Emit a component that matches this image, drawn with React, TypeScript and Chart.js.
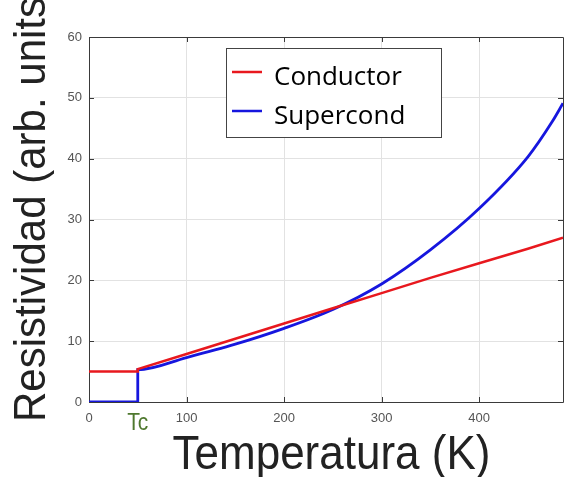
import React, { useEffect, useRef } from "react";
import { Chart, registerables } from "chart.js";

Chart.register(...registerables);

// ---- data ----
const SERIES_LABELS = ["Conductor", "Supercond"];
const TEMP_CONDUCTOR = [0, 50, 50, 100, 150, 200, 250, 300, 350, 400, 450, 486];
const RHO_CONDUCTOR = [5.0, 5.0, 5.4, 7.9, 10.4, 12.9, 15.4, 17.9, 20.4, 22.8, 25.2, 27.0];
const TEMP_SUPER = [0, 50, 50, 100, 150, 200, 250, 300, 350, 400, 450, 475, 486];
const RHO_SUPER = [0, 0, 5.3, 7.3, 9.5, 12.1, 15.2, 19.4, 25.0, 31.8, 40.3, 46.1, 49.1];
const TC = 50;
const TC_LABEL = "Tc";
const X_TICKS = [0, 100, 200, 300, 400];
const Y_TICKS = [0, 10, 20, 30, 40, 50, 60];
const X_MIN = 0;
const X_MAX = 486;
const Y_MIN = 0;
const Y_MAX = 60;
const X_TITLE = "Temperatura (K)";
const Y_TITLE = "Resistividad (arb. units)";

const COLORS = ["rgb(232,24,30)", "rgb(22,22,222)"];

const W = 565;
const H = 477;

function scaledText(ctx: any, text: string, x: number, y: number, sx: number, sy: number, rot = 0) {
  ctx.save();
  ctx.translate(x, y);
  if (rot) ctx.rotate(rot);
  ctx.scale(sx, sy);
  ctx.fillText(text, 0, 0);
  ctx.restore();
}

const decorPlugin = {
  id: "decor",
  beforeDatasetsDraw(chart: any) {
    const { ctx, chartArea: a, scales } = chart;
    const xs = scales.x;
    const ys = scales.y;
    ctx.save();
    ctx.strokeStyle = "#3a3a3a";
    ctx.lineWidth = 1;
    ctx.beginPath();
    ctx.moveTo(a.left + 0.5, a.bottom + 0.5);
    ctx.lineTo(a.left + 0.5, a.top + 0.5);
    ctx.lineTo(a.right + 0.5, a.top + 0.5);
    ctx.lineTo(a.right + 0.5, a.bottom + 0.5);
    ctx.lineTo(a.left + 0.5, a.bottom + 0.5);
    ctx.stroke();
    const tl = 5;
    ctx.beginPath();
    X_TICKS.forEach((v) => {
      const px = Math.round(xs.getPixelForValue(v)) + 0.5;
      ctx.moveTo(px, a.bottom);
      ctx.lineTo(px, a.bottom - tl);
      ctx.moveTo(px, a.top);
      ctx.lineTo(px, a.top + tl);
    });
    Y_TICKS.forEach((v) => {
      const py = Math.round(ys.getPixelForValue(v)) + 0.5;
      ctx.moveTo(a.left, py);
      ctx.lineTo(a.left + tl, py);
      ctx.moveTo(a.right, py);
      ctx.lineTo(a.right - tl, py);
    });
    ctx.stroke();
    ctx.restore();
  },
  afterDraw(chart: any) {
    const { ctx, chartArea: a, scales } = chart;
    const xs = scales.x;
    ctx.save();
    ctx.textBaseline = "alphabetic";
    // x title
    ctx.fillStyle = "#222";
    ctx.font = '44px "Liberation Sans", Arial, sans-serif';
    ctx.textAlign = "center";
    scaledText(ctx, X_TITLE, (a.left + a.right) / 2 + 5.5, a.bottom + 67, 1, 1.08);
    // y title
    ctx.font = '44px "Liberation Sans", Arial, sans-serif';
    ctx.textAlign = "left";
    scaledText(ctx, Y_TITLE, a.left - 44, a.bottom + 20, 0.955, 1, -Math.PI / 2);
    // Tc label
    ctx.fillStyle = "rgb(78,120,46)";
    ctx.font = '21px "Liberation Sans", Arial, sans-serif';
    ctx.textAlign = "center";
    scaledText(ctx, TC_LABEL, xs.getPixelForValue(TC), a.bottom + 28, 1, 1.1);
    // legend
    const lx = a.left + 137;
    const ly = a.top + 11;
    const lw = 215;
    const lh = 89;
    ctx.fillStyle = "#fff";
    ctx.fillRect(lx, ly, lw, lh);
    ctx.strokeStyle = "#444";
    ctx.lineWidth = 1;
    ctx.strokeRect(lx + 0.5, ly + 0.5, lw, lh);
    ctx.font = '26px "Open Sans", sans-serif';
    ctx.textAlign = "left";
    chart.data.datasets.forEach((ds: any, i: number) => {
      const cy = ly + 24 + i * 39;
      ctx.strokeStyle = ds.borderColor;
      ctx.lineWidth = 2.5;
      ctx.beginPath();
      ctx.moveTo(lx + 6, cy);
      ctx.lineTo(lx + 36, cy);
      ctx.stroke();
      ctx.fillStyle = "#000";
      ctx.fillText(ds.label, lx + 48, cy + 13);
    });
    ctx.restore();
  },
};

export default function App() {
  const ref = useRef<HTMLCanvasElement | null>(null);

  useEffect(() => {
    if (!ref.current) return;
    const tickFont = { family: '"Liberation Sans", Arial, sans-serif', size: 13 };
    const chart = new Chart(ref.current, {
      type: "line",
      data: {
        datasets: [
          {
            label: SERIES_LABELS[0],
            data: TEMP_CONDUCTOR.map((t, i) => ({ x: t, y: RHO_CONDUCTOR[i] })),
            borderColor: COLORS[0],
            borderWidth: 2.5,
            pointRadius: 0,
            tension: 0,
            fill: false,
          },
          {
            label: SERIES_LABELS[1],
            data: TEMP_SUPER.map((t, i) => ({ x: t, y: RHO_SUPER[i] })),
            borderColor: COLORS[1],
            borderWidth: 2.8,
            pointRadius: 0,
            cubicInterpolationMode: "monotone",
            fill: false,
          },
        ],
      },
      options: {
        animation: false,
        responsive: false,
        devicePixelRatio: 1,
        layout: { padding: { top: 37, right: 2, left: 0, bottom: 0 } },
        plugins: { legend: { display: false }, tooltip: { enabled: false } },
        scales: {
          x: {
            type: "linear",
            min: X_MIN,
            max: X_MAX,
            afterBuildTicks: (s: any) => {
              s.ticks = X_TICKS.map((v) => ({ value: v }));
            },
            afterFit: (s: any) => {
              s.height = 75;
            },
            ticks: { font: tickFont, color: "#555", padding: 9, maxRotation: 0, includeBounds: false },
            grid: { color: "#e2e2e2", drawTicks: false },
            border: { display: false },
          },
          y: {
            type: "linear",
            min: Y_MIN,
            max: Y_MAX,
            afterBuildTicks: (s: any) => {
              s.ticks = Y_TICKS.map((v) => ({ value: v }));
            },
            afterFit: (s: any) => {
              s.width = 89;
            },
            ticks: { font: tickFont, color: "#555", padding: 7 },
            grid: { color: "#e2e2e2", drawTicks: false },
            border: { display: false },
          },
        },
      },
      plugins: [decorPlugin],
    } as any);
    return () => chart.destroy();
  }, []);

  return (
    <div style={{ position: "fixed", left: 0, top: 0, width: W, height: H, background: "#fff" }}>
      <canvas ref={ref} width={W} height={H} style={{ display: "block", width: W, height: H }} />
    </div>
  );
}
